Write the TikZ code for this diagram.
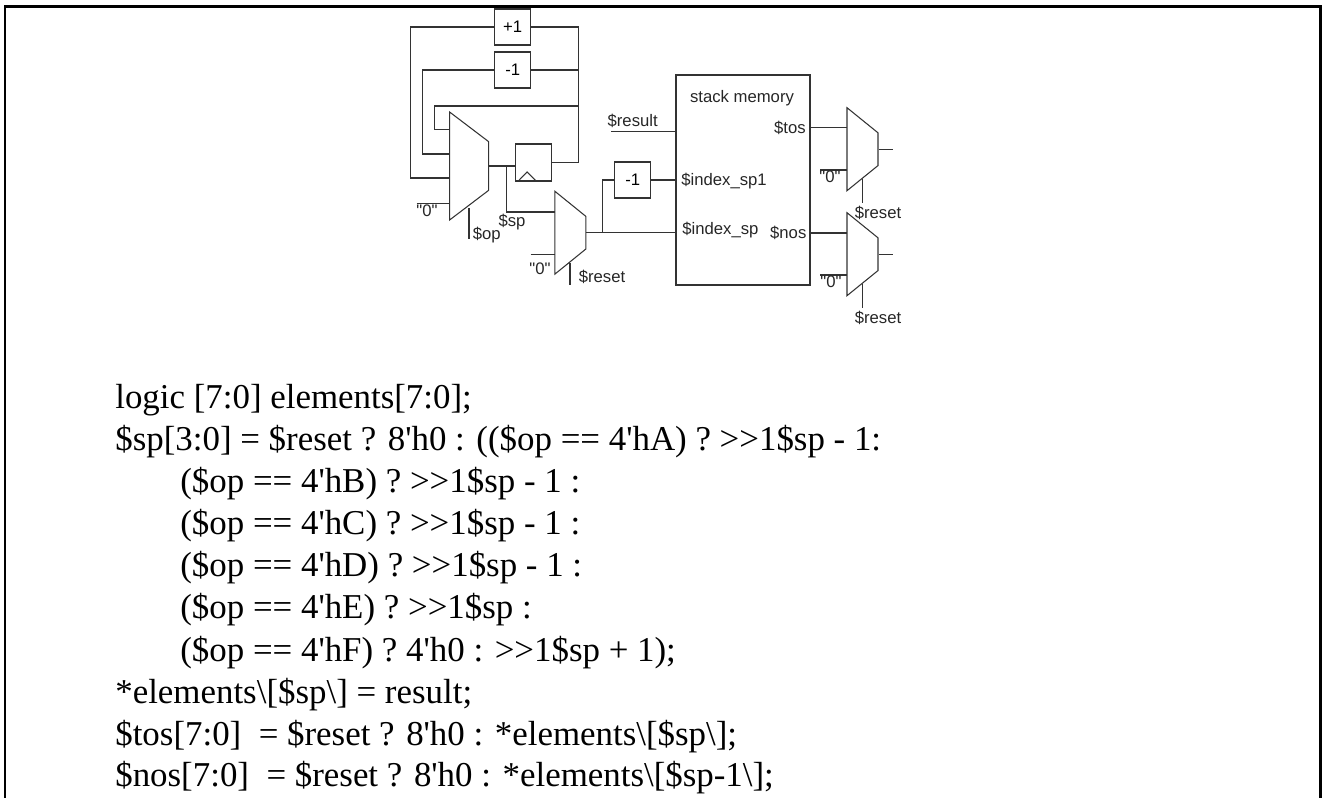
\documentclass[tikz,border=0pt]{standalone}
\usepackage{fontspec}
\newfontfamily\wirefont{Liberation Sans}
\newfontfamily\codefont{Liberation Serif}
\usepackage{tikz}
\usetikzlibrary{positioning, shapes.geometric, calc}

\begin{document}
\begin{tikzpicture}[
    x=0.2mm, y=-0.2mm,
    wire/.style    = {line width=0.6pt, black!80},
    frameline/.style = {line width=1.2pt, black},
    incbox/.style  = {draw=black!80, line width=0.6pt, font=\wirefont\fontsize{9.5}{11}\selectfont,
                      minimum width=36*0.2mm, minimum height=36*0.2mm, inner sep=0pt},
    regbox/.style  = {draw=black!80, line width=0.6pt, minimum width=36*0.2mm,
                      minimum height=37*0.2mm, inner sep=0pt},
    membox/.style  = {draw=black!80, line width=0.6pt, minimum width=134*0.2mm,
                      minimum height=210*0.2mm, inner sep=0pt},
    muxbig/.style  = {draw=black!80, line width=0.6pt, trapezium, shape border rotate=270,
                      trapezium stretches=true, trapezium angle=58.7, inner sep=1pt,
                      minimum width=108*0.2mm, minimum height=39*0.2mm},
    muxsmall/.style = {draw=black!80, line width=0.6pt, trapezium, shape border rotate=270,
                      trapezium stretches=true, trapezium angle=52.5, inner sep=1pt,
                      minimum width=83*0.2mm, minimum height=31*0.2mm},
    sig/.style     = {font=\wirefont\fontsize{9.5}{11}\selectfont, inner sep=0pt, text=black!85},
    codeline/.style = {font=\codefont\fontsize{19.85}{24}\selectfont, anchor=base west, inner sep=0pt},
  ]
    \useasboundingbox (0,0) rectangle (1322,798);

    % --- frame, open at the bottom ---
    \coordinate (f1) at (5,798);   \coordinate (f2) at (5,6.5);
    \coordinate (f3) at (1320.5,6.5);  \coordinate (f4) at (1320.5,798);
    \draw[frameline] (f1) -- (f2) -- (f3) -- (f4);

    % --- blocks ---
    \node[incbox] (plusone)  at (512.7,27)   {+1};
    \node[incbox] (minusone) at (512.7,70)   {-1};
    \node[regbox] (spreg)    at (533.3,162.5) {};
    \node[incbox] (sponem)   at (632.8,180)  {-1};
    \node[membox] (stack)    at (743,180)    {};

    % --- muxes ---
    \node[muxbig]   (mux1) at (469.1,166)   {};
    \node[muxsmall] (mux2) at (570.3,232.7) {};
    \node[muxsmall] (mux3) at (862.5,149.2) {};
    \node[muxsmall] (mux4) at (862.5,254.2) {};

    % --- clock mark of the register ---
    \coordinate (clk1) at (518.3,181);
    \coordinate (clk2) at (527,172);
    \coordinate (clk3) at (536,181);
    \draw[wire] (clk1) -- (clk2) -- (clk3);

    % --- bends and ends ---
    \coordinate (busr)  at (578.7,106);
    \coordinate (p1a)   at (449.5,178);
    \coordinate (p1b)   at (449.5,154);
    \coordinate (p1c)   at (449.5,129.7);
    \coordinate (p1d)   at (449.5,203.7);
    \coordinate (b1a)   at (410.7,100);
    \coordinate (b1b)   at (422.7,100);
    \coordinate (b1c)   at (434.7,120);
    \coordinate (zero1) at (416.7,203.7);
    \coordinate (opa)   at (469,208);
    \coordinate (opb)   at (469,238.7);
    \coordinate (spt)   at (506.7,166);
    \coordinate (p2a)   at (555,212);
    \coordinate (p2b)   at (555,254.3);
    \coordinate (zero2) at (530.7,254.3);
    \coordinate (rs2a)  at (570,263);
    \coordinate (rs2b)  at (570,285);
    \coordinate (ix)    at (602.7,232.7);
    \coordinate (stk1)  at (676,131.3);
    \coordinate (res)   at (611,131.3);
    \coordinate (stk3)  at (810,127.7);
    \coordinate (stk4)  at (810,233);
    \coordinate (p3a)   at (847,127.7);
    \coordinate (p3b)   at (847,170);
    \coordinate (zero3) at (820,170);
    \coordinate (rs3a)  at (862.7,179);
    \coordinate (rs3b)  at (862.7,203);
    \coordinate (out3)  at (892.7,149.2);
    \coordinate (p4a)   at (847,233);
    \coordinate (p4b)   at (847,275);
    \coordinate (zero4) at (820,275);
    \coordinate (rs4a)  at (862.7,284);
    \coordinate (rs4b)  at (862.7,308);
    \coordinate (out4)  at (892.7,254.2);

    % --- stack pointer feedback ---
    \draw[wire] (plusone.west) -| (b1a) |- (p1a);
    \draw[wire] (minusone.west) -| (b1b) |- (p1b);
    \draw[wire] (busr) -| (b1c) |- (p1c);
    \draw[wire] (plusone.east) -| (spreg.east -| busr) -- (spreg.east);
    \draw[wire] (minusone.east) -- (minusone.east -| busr);
    \draw[wire] (zero1) -- (p1d);
    \draw[wire] (opa) -- (opb);
    \draw[wire] (mux1.east) -- (mux1.east -| spreg.west);

    % --- into the memory ---
    \draw[wire] (spt) |- (p2a);
    \draw[wire] (zero2) -- (p2b);
    \draw[wire] (rs2a) -- (rs2b);
    \draw[wire] (mux2.east) -- (mux2.east -| stack.west);
    \draw[wire] (ix) |- (sponem.west);
    \draw[wire] (sponem.east) -- (sponem.east -| stack.west);
    \draw[wire] (res) -- (stk1);

    % --- output muxes ---
    \draw[wire] (stk3) -- (p3a);
    \draw[wire] (zero3) -- (p3b);
    \draw[wire] (rs3a) -- (rs3b);
    \draw[wire] (mux3.east) -- (out3);
    \draw[wire] (stk4) -- (p4a);
    \draw[wire] (zero4) -- (p4b);
    \draw[wire] (rs4a) -- (rs4b);
    \draw[wire] (mux4.east) -- (out4);

    % --- signal names ---
    \node[sig] (lzero1) at (427,211)     {"0"};
    \node[sig] (lop)    at (486.7,235)   {\$op};
    \node[sig] (lsp)    at (512,222)     {\$sp};
    \node[sig] (lzero2) at (540,269)     {"0"};
    \node[sig] (lrst2)  at (602,277)     {\$reset};
    \node[sig] (lres)   at (632.7,120.7) {\$result};
    \node[sig] (lmem)   at (742,98)      {stack memory};
    \node[sig, anchor=east] (ltos) at (806,127.7) {\$tos};
    \node[sig, anchor=east] (lnos) at (806.7,232.7) {\$nos};
    \node[sig, anchor=west] (lix1) at (681,180.7) {\$index\_sp1};
    \node[sig, anchor=west] (lix0) at (682,230)   {\$index\_sp};
    \node[sig] (lzero3) at (830,177)     {"0"};
    \node[sig] (lrst3)  at (878,213)     {\$reset};
    \node[sig] (lzero4) at (831,281.7)   {"0"};
    \node[sig] (lrst4)  at (878,318)     {\$reset};

    % --- listing ---
    \node[codeline] (c1)  at (115,408) {logic [7:0] elements[7:0];};
    \node[codeline] (c2)  at (115,450) {\$sp[3:0] = \$reset ? 8'h0 : ((\$op == 4'hA) ? >>1\$sp - 1:};
    \node[codeline] (c3)  at (180,492) {(\$op == 4'hB) ? >>1\$sp - 1 :};
    \node[codeline] (c4)  at (180,534) {(\$op == 4'hC) ? >>1\$sp - 1 :};
    \node[codeline] (c5)  at (180,576) {(\$op == 4'hD) ? >>1\$sp - 1 :};
    \node[codeline] (c6)  at (180,618) {(\$op == 4'hE) ? >>1\$sp :};
    \node[codeline] (c7)  at (180,661) {(\$op == 4'hF) ? 4'h0 : >>1\$sp + 1);};
    \node[codeline] (c8)  at (115,703) {*elements\textbackslash[\$sp\textbackslash] = result;};
    \node[codeline] (c9)  at (115,745) {\$tos[7:0]\ \ = \$reset ? 8'h0 : *elements\textbackslash[\$sp\textbackslash];};
    \node[codeline] (c10) at (115,786) {\$nos[7:0]\ \ = \$reset ? 8'h0 : *elements\textbackslash[\$sp-1\textbackslash];};
\end{tikzpicture}
\end{document}
